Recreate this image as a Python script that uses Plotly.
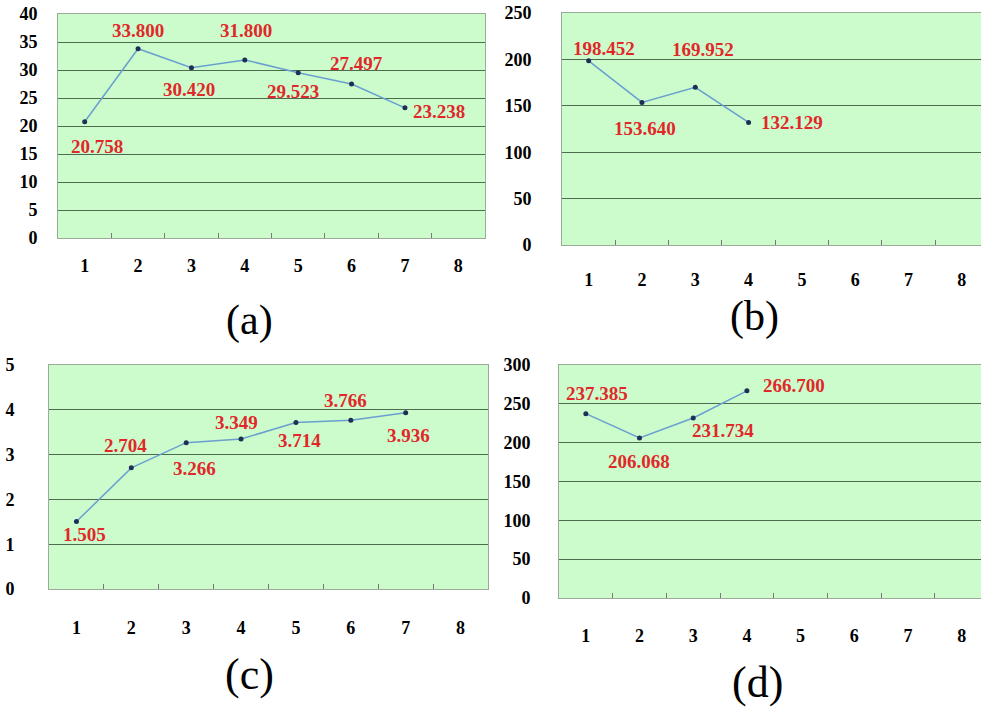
import plotly.graph_objects as go

categories = ["1", "2", "3", "4", "5", "6", "7", "8"]

a_values = [20.758, 33.800, 30.420, 31.800, 29.523, 27.497, 23.238]
b_values = [198.452, 153.640, 169.952, 132.129]
c_values = [1.505, 2.704, 3.266, 3.349, 3.714, 3.766, 3.936]
d_values = [237.385, 206.068, 231.734, 266.700]

a_ticks = [0, 5, 10, 15, 20, 25, 30, 35, 40]
b_ticks = [0, 50, 100, 150, 200, 250]
c_ticks = [0, 1, 2, 3, 4, 5]
d_ticks = [0, 50, 100, 150, 200, 250, 300]

panel_labels = ["(a)", "(b)", "(c)", "(d)"]

# label offsets in pixels (dx, dy up)
a_offsets = [(12, -25), (0, 18), (-2, -22), (1, 29), (-5, -19), (5, 21), (34, -4)]
b_offsets = [(15, 12), (3, -26), (8, 38), (43, 0)]
c_offsets = [(8, -13), (-6, 22), (8, -26), (-5, 16), (4, -18), (-5, 20), (3, -23)]
d_offsets = [(11, 20), (-1, -24), (30, -12), (47, 5)]

panels = [
    dict(vals=a_values, ticks=a_ticks, offs=a_offsets,
         xd=[58/981, 485/981], yd=[1-238/707, 1-14/707], xr=[-0.5, 7.5], ystand=16, xstand=11),
    dict(vals=b_values, ticks=b_ticks, offs=b_offsets,
         xd=[562/981, 1.0], yd=[1-245/707, 1-13/707], xr=[-0.5, 7.36], ystand=26, xstand=18),
    dict(vals=c_values, ticks=c_ticks, offs=c_offsets,
         xd=[49/981, 488/981], yd=[1-589/707, 1-365/707], xr=[-0.5, 7.5], ystand=30, xstand=22),
    dict(vals=d_values, ticks=d_ticks, offs=d_offsets,
         xd=[559/981, 1.0], yd=[1-598/707, 1-365/707], xr=[-0.5, 7.36], ystand=24, xstand=21),
]
label_pos = [(249/981, 1-320/707), (754/981, 1-316/707), (249/981, 1-674/707), (757/981, 1-682/707)]
label_size = [42, 42, 44, 44]

BG = "#ccfccc"
GRID = "#4d6b4d"
BORDER = "#9aab9a"
LINE = "#6a9fcf"
MARK = "#1c2f55"
RED = "#e0282a"
tickfont = dict(family="Liberation Serif", size=18, color="black", weight="bold")

fig = go.Figure()
annotations = []
shapes = []
for i, p in enumerate(panels):
    n = i + 1
    xa = "x" if n == 1 else f"x{n}"
    ya = "y" if n == 1 else f"y{n}"
    xs = categories[:len(p["vals"])]
    fig.add_trace(go.Scatter(
        x=xs, y=p["vals"], xaxis=xa, yaxis=ya, mode="lines+markers",
        line=dict(color=LINE, width=1.5), marker=dict(color=MARK, size=5),
        showlegend=False, cliponaxis=False))
    for k, (yv, (dx, dy)) in enumerate(zip(p["vals"], p["offs"])):
        annotations.append(dict(
            x=k, y=yv, xref=xa, yref=ya, text=f"{yv:.3f}", showarrow=False,
            xshift=dx, yshift=dy,
            font=dict(family="Liberation Serif", size=19, color=RED, weight="bold")))
    fig.update_layout(**{
        ("xaxis" if n == 1 else f"xaxis{n}"): dict(
            domain=p["xd"], anchor=ya, type="category", categoryorder="array",
            categoryarray=categories, range=p["xr"], tickson="boundaries",
            ticks="inside", ticklen=5, tickcolor="#777777", showgrid=False,
            showline=True, linecolor=BORDER, linewidth=1, mirror=True,
            tickfont=tickfont, ticklabelstandoff=p["xstand"], fixedrange=True,
            automargin=False),
        ("yaxis" if n == 1 else f"yaxis{n}"): dict(
            domain=p["yd"], anchor=xa, range=[p["ticks"][0], p["ticks"][-1]],
            tickvals=p["ticks"], showgrid=True, gridcolor=GRID, gridwidth=1,
            showline=True, linecolor=BORDER, linewidth=1, mirror=True,
            zeroline=False, ticks="", tickfont=tickfont,
            ticklabelstandoff=p["ystand"], fixedrange=True, automargin=False),
    })
    shapes.append(dict(type="rect", xref=f"{xa} domain", yref=f"{ya} domain",
                       x0=0, x1=1, y0=0, y1=1, fillcolor=BG, line=dict(width=0),
                       layer="below"))
    annotations.append(dict(
        x=label_pos[i][0], y=label_pos[i][1], xref="paper", yref="paper",
        xanchor="center", yanchor="middle",
        text=panel_labels[i], showarrow=False,
        font=dict(family="Liberation Serif", size=label_size[i], color="black")))

fig.update_layout(
    width=981, height=707, margin=dict(l=0, r=0, t=0, b=0, pad=0, autoexpand=False),
    paper_bgcolor="white", plot_bgcolor=BG,
    annotations=annotations, shapes=shapes,
)
fig.write_html(
    "out.html",
    config={"displayModeBar": False},
    post_script="document.body.style.margin='0';document.body.style.overflow='hidden';",
)
